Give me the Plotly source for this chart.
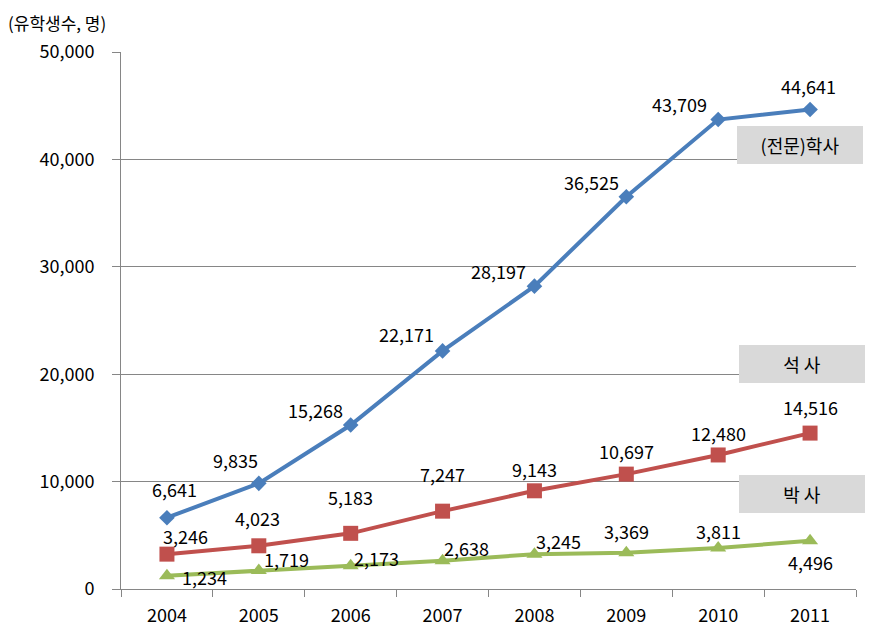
import plotly.graph_objects as go

years = ["2004", "2005", "2006", "2007", "2008", "2009", "2010", "2011"]
bachelor = [6641, 9835, 15268, 22171, 28197, 36525, 43709, 44641]
master = [3246, 4023, 5183, 7247, 9143, 10697, 12480, 14516]
doctor = [1234, 1719, 2173, 2638, 3245, 3369, 3811, 4496]
series_names = ["(전문)학사", "석 사", "박 사"]
y_title = "(유학생수, 명)"

FONT = "Noto Sans CJK KR, Malgun Gothic, sans-serif"
fig = go.Figure()

styles = [
    (bachelor, "#4a7ebb", "diamond", 12),
    (master, "#c0504d", "square", 15),
    (doctor, "#9bbb59", "triangle-up", 14),
]
for (vals, color, sym, size), name in zip(styles, series_names):
    fig.add_trace(go.Scatter(
        x=years, y=vals, mode="lines+markers", name=name,
        line=dict(color=color, width=4),
        marker=dict(symbol=sym, size=size, color=color),
        showlegend=False,
    ))

# label offsets in pixels (dx, dy)
off_b = [(8, 29), (-23, 23), (-35, 15), (-36, 17), (-36, 15), (-35, 15), (-39, 16), (-2, 24)]
off_m = [(19, 18), (-1, 28), (0, 36), (0, 37), (0, 22), (0, 23), (0, 22), (0, 26)]
off_d = [(38, -1), (28, 12), (26, 8), (24, 13), (24, 13), (0, 22), (0, 17), (0, -21)]

for vals, offs in [(bachelor, off_b), (master, off_m), (doctor, off_d)]:
    for i, (v, (dx, dy)) in enumerate(zip(vals, offs)):
        fig.add_annotation(x=i, y=v, xref="x", yref="y", text=f"{v:,}",
                           showarrow=False, xshift=dx, yshift=dy,
                           font=dict(family=FONT, size=18, color="black"))

# legend-like labels
box_pos = [(0.924, 0.827), (0.926, 0.419), (0.926, 0.177)]
for name, (bx, by) in zip(series_names, box_pos):
    fig.add_annotation(xref="paper", yref="paper", x=bx, y=by, text=name,
                       xanchor="center", yanchor="middle",
                       showarrow=False, bgcolor="#d9d9d9", width=126, height=38,
                       borderpad=0, borderwidth=0,
                       font=dict(family=FONT, size=18, color="black"))

fig.add_annotation(xref="paper", yref="paper", x=0, y=1, xanchor="left",
                   yanchor="middle", xshift=-113, yshift=30, text=y_title,
                   showarrow=False, borderpad=0, borderwidth=0,
                   font=dict(family=FONT, size=17, color="black"))

fig.update_layout(
    width=865, height=626,
    margin=dict(l=113, r=17, t=44, b=45),
    plot_bgcolor="white", paper_bgcolor="white",
    font=dict(family=FONT, size=18, color="black"),
)
fig.update_xaxes(
    type="category", tickson="boundaries", ticks="outside", ticklen=7,
    tickcolor="#868686", showline=True, linecolor="#868686", linewidth=1,
    showgrid=False, tickfont=dict(size=18), range=[-0.5, 7.5],
    ticklabelstandoff=10, automargin=False,
)
fig.update_yaxes(
    range=[0, 50000], dtick=10000, tickformat=",", ticks="outside", ticklen=8,
    tickcolor="#868686", showline=True, linecolor="#868686", linewidth=1,
    showgrid=True, gridcolor="#868686", gridwidth=1, zeroline=False,
    tickfont=dict(size=18), ticklabelstandoff=14, automargin=False,
)
fig.write_html("out.html")
